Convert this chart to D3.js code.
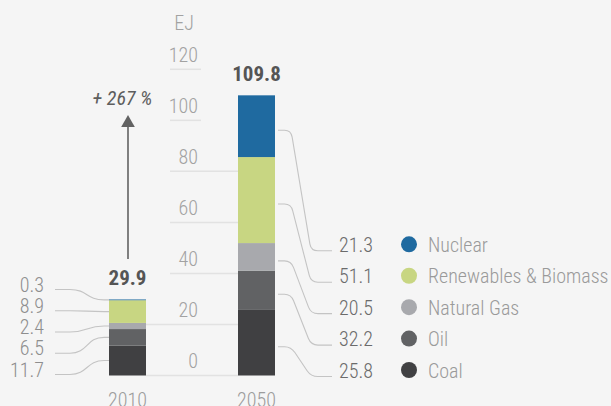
<!DOCTYPE html>
<html><head><meta charset="utf-8">
<script src="https://cdn.jsdelivr.net/npm/d3@7"></script>
<style>
html,body{margin:0;padding:0;background:#f5f5f5;}
svg{display:block;}
text{font-family:"Roboto Condensed","Liberation Sans Narrow","Roboto",sans-serif;}
</style></head>
<body><svg id="c" width="611" height="406"></svg>
<script>
// ---- data ----
const years = ["2010", "2050"];
const sources = ["Coal", "Oil", "Natural Gas", "Renewables & Biomass", "Nuclear"];
const values2010 = [11.7, 6.5, 2.4, 8.9, 0.3];
const values2050 = [25.7, 15.4, 10.8, 33.7, 24.2];           // bar heights as drawn
const labels2050 = ["25.8", "32.2", "20.5", "51.1", "21.3"]; // figures printed beside 2050
const totals = ["29.9", "109.8"];
const yTicks = [0, 20, 40, 60, 80, 100, 120];
const unitLabel = "EJ";
const growthLabel = "+ 267 %";
const colors = ["#404042", "#616264", "#a8a9ad", "#c8d682", "#1f6aa0"];

// ---- setup ----
const svg = d3.select("#c");
svg.append("rect").attr("width", 611).attr("height", 406).attr("fill", "#f5f5f5");

const y = d3.scaleLinear().domain([0, 120]).range([375.5, 69.3]);
const x = d3.scalePoint().domain(years).range([127.5, 256.5]);
const barW = 37;
const color = d3.scaleOrdinal().domain(sources).range(colors);

const table = years.map((yr, i) => {
  const row = {year: yr};
  sources.forEach((s, j) => row[s] = (i === 0 ? values2010 : values2050)[j]);
  return row;
});
const series = d3.stack().keys(sources)(table);

// gridlines (extent depends on position relative to bars)
const grid = svg.append("g");
yTicks.forEach(t => {
  let x1 = t <= 20 ? x("2010") + barW / 2 : 170;
  let x2 = t <= 80 ? x("2050") - barW / 2 : 201;
  grid.append("line").attr("x1", x1).attr("x2", x2)
    .attr("y1", y(t)).attr("y2", y(t))
    .attr("stroke", "#e2e2e2").attr("stroke-width", 1.5);
  grid.append("text").attr("x", 198).attr("y", y(t) - 7.5)
    .attr("text-anchor", "end").attr("fill", "#a2a2a2")
    .attr("font-size", 20).attr("font-weight", 300).text(t);
});
svg.append("text").attr("x", 184).attr("y", 30).attr("text-anchor", "middle")
  .attr("fill", "#a2a2a2").attr("font-size", 20).attr("font-weight", 300).text(unitLabel);

// bars
svg.append("g").selectAll("g").data(series).join("g")
  .attr("fill", d => color(d.key))
  .selectAll("rect").data(d => d).join("rect")
  .attr("x", d => x(d.data.year) - barW / 2)
  .attr("width", barW)
  .attr("y", d => y(d[1]))
  .attr("height", d => y(d[0]) - y(d[1]));

// totals
years.forEach((yr, i) => {
  const top = d3.sum(i === 0 ? values2010 : values2050);
  svg.append("text").attr("x", x(yr)).attr("y", y(top) - 14)
    .attr("text-anchor", "middle").attr("fill", "#555")
    .attr("font-size", 21).attr("font-weight", 700).text(totals[i]);
  svg.append("text").attr("x", x(yr)).attr("y", 406.5)
    .attr("text-anchor", "middle").attr("fill", "#9c9c9c")
    .attr("font-size", 20).attr("font-weight", 300).text(yr);
});

// growth arrow
const ax = x("2010") + 0.5;
svg.append("line").attr("x1", ax).attr("x2", ax).attr("y1", 259).attr("y2", 126)
  .attr("stroke", "#626262").attr("stroke-width", 1.6);
svg.append("path").attr("d", `M${ax},115 L${ax + 6.8},127 L${ax - 6.8},127 Z`).attr("fill", "#626262");
svg.append("text").attr("x", 122.5).attr("y", 105).attr("text-anchor", "middle")
  .attr("fill", "#5e5e5e").attr("font-size", 20).attr("font-style", "italic")
  .attr("font-weight", 400).text(growthLabel);

// ---- left labels (2010) ----
const leftRow = d3.scalePoint().domain(d3.reverse(sources)).range([289.5, 374.5]);
const s2010 = series.map(s => s[0]);
const lines = svg.append("g").attr("fill", "none").attr("stroke", "#c4c4c4").attr("stroke-width", 1.1);
sources.forEach((s, j) => {
  const d = s2010[j];
  const ya = y((d[0] + d[1]) / 2);
  const yl = leftRow(s);
  const bx = x("2010") - barW / 2;
  lines.append("path").attr("d",
    `M55,${yl} L70,${yl} C88,${yl} 86,${ya} ${bx - 5},${ya} L${bx},${ya}`);
  svg.append("text").attr("x", 44).attr("y", yl + 2)
    .attr("text-anchor", "end").attr("fill", "#8e8e8e")
    .attr("font-size", 20).attr("font-weight", 300).text(d3.format(".1f")(values2010[j]));
});

// ---- right labels + legend (2050) ----
function rounded(pts, r) {
  let p = `M${pts[0][0]},${pts[0][1]}`;
  for (let i = 1; i < pts.length - 1; i++) {
    const [x0, y0] = pts[i - 1], [x1, y1] = pts[i], [x2, y2] = pts[i + 1];
    const l1 = Math.hypot(x1 - x0, y1 - y0), l2 = Math.hypot(x2 - x1, y2 - y1);
    const r1 = Math.min(r, l1 / 2), r2 = Math.min(r, l2 / 2);
    const ax1 = x1 - (x1 - x0) / l1 * r1, ay1 = y1 - (y1 - y0) / l1 * r1;
    const bx1 = x1 + (x2 - x1) / l2 * r2, by1 = y1 + (y2 - y1) / l2 * r2;
    p += ` L${ax1},${ay1} Q${x1},${y1} ${bx1},${by1}`;
  }
  const last = pts[pts.length - 1];
  return p + ` L${last[0]},${last[1]}`;
}
const legRow = d3.scalePoint().domain(d3.reverse(sources)).range([244.3, 370]);
const s2050 = series.map(s => s[1]);
sources.forEach((s, j) => {
  const d = s2050[j];
  const ya = y((d[0] + d[1]) / 2) + 4;
  const cy = legRow(s);
  const bx = x("2050") + barW / 2 + 3;
  lines.append("path").attr("d",
    rounded([[bx, ya], [291, ya], [311, cy + 6.5], [332, cy + 6.5]], 7));
  svg.append("text").attr("x", 373).attr("y", cy + 7.5)
    .attr("text-anchor", "end").attr("fill", "#6b6b6b")
    .attr("font-size", 20).attr("font-weight", 300).text(labels2050[j]);
  svg.append("circle").attr("cx", 409).attr("cy", cy).attr("r", 8).attr("fill", color(s));
  svg.append("text").attr("x", 428).attr("y", cy + 7.5)
    .attr("fill", "#9a9a9a").attr("font-size", 20).attr("font-weight", 300).text(s);
});
</script></body></html>
